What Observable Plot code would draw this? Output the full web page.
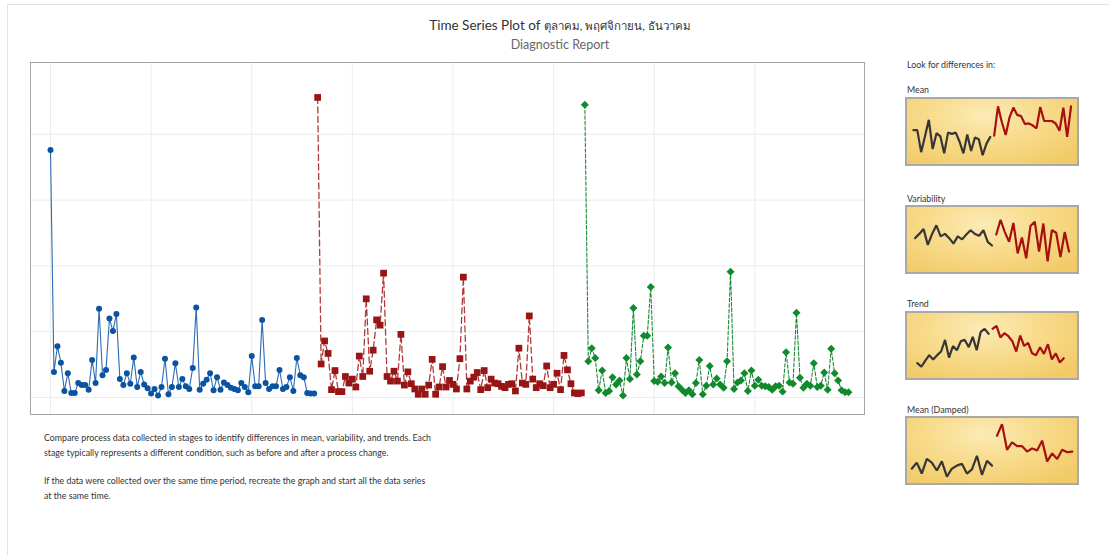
<!DOCTYPE html>
<html>
<head>
<meta charset="utf-8">
<script src="https://cdn.jsdelivr.net/npm/d3@7"></script>
<script src="https://cdn.jsdelivr.net/npm/@observablehq/plot@0.6"></script>
<style>
  html, body { margin: 0; padding: 0; background: #fff; }
  body { width: 1109px; height: 555px; position: relative; overflow: hidden;
         font-family: Lato, "Open Sans", "Noto Sans", "DejaVu Sans", sans-serif; color: #333; }
  .page { position: absolute; left: 7px; top: 4px; width: 1110px; height: 560px; border: 1px solid #e2e2e2; }
  .title { position: absolute; left: 0; width: 1120px; top: 17px; text-align: center; font-size: 13.5px; color: #333; }
  .title .th { font-size: 11.5px; }
  .subtitle { position: absolute; left: 0; width: 1120px; top: 37px; text-align: center; font-size: 12.5px; color: #666; }
  #main { position: absolute; left: 30px; top: 62px; width: 835px; height: 353px; border: 1px solid #a6a6a6; box-sizing: border-box; }
  #main svg { display: block; }
  .note { position: absolute; left: 44px; font-size: 8.8px; line-height: 15px; color: #333; width: 400px; }
  .side { position: absolute; left: 907px; font-size: 8.8px; color: #333; }
  .panel { position: absolute; left: 905px; width: 174px; height: 69px; box-sizing: border-box; border: 2px solid #a9a9a9;
           background: radial-gradient(ellipse 70% 90% at 45% 25%, #fcebb6 0%, #f8dc8e 45%, #f2cb68 100%); }
  .panel svg { display: block; background: transparent; }
</style>
</head>
<body>
<div class="page"></div>
<div class="title">Time Series Plot of <span class="th">ตุลาคม, พฤศจิกายน, ธันวาคม</span></div>
<div class="subtitle">Diagnostic Report</div>
<div id="main"></div>
<div class="note" style="top:430px">Compare process data collected in stages to identify differences in mean, variability, and trends. Each<br>stage typically represents a different condition, such as before and after a process change.</div>
<div class="note" style="top:473px">If the data were collected over the same time period, recreate the graph and start all the data series<br>at the same time.</div>
<div class="side" style="top:59px">Look for differences in:</div>
<div class="side" style="top:84px">Mean</div>
<div class="panel" id="p1" style="top:97px"></div>
<div class="side" style="top:193px">Variability</div>
<div class="panel" id="p2" style="top:205px"></div>
<div class="side" style="top:298px">Trend</div>
<div class="panel" id="p3" style="top:311px"></div>
<div class="side" style="top:404px">Mean (Damped)</div>
<div class="panel" id="p4" style="top:416px"></div>
<script>
// ---- main chart data (arbitrary units) ----
const stageNames = ["ตุลาคม", "พฤศจิกายน", "ธันวาคม"];
const octValues = [376, 39, 78, 53, 10, 37, 7, 7, 22, 19, 19, 12, 57, 22, 135, 34, 42, 120, 101, 127,
  28, 19, 37, 21, 61, 16, 39, 20, 14, 6, 13, 3, 16, 59, 5, 16, 52, 16, 28, 17,
  13, 45, 137, 12, 21, 27, 37, 11, 31, 12, 23, 19, 15, 13, 11, 22, 16, 8, 63, 17,
  17, 118, 22, 13, 17, 17, 42, 13, 16, 31, 10, 60, 34, 31, 7, 6, 6];
const novValues = [456, 51, 86, 67, 12, 41, 9, 9, 32, 22, 28, 16, 63, 32, 150, 40, 72, 118, 110, 189,
  32, 25, 40, 25, 96, 19, 39, 21, 13, 5, 13, 5, 19, 58, 5, 16, 47, 16, 26, 20,
  13, 59, 183, 13, 25, 31, 38, 12, 41, 15, 28, 22, 21, 17, 15, 20, 21, 10, 75, 22,
  20, 124, 28, 15, 21, 18, 48, 15, 20, 37, 12, 64, 42, 21, 7, 6, 7];
const decValues = [445, 55, 75, 60, 11, 41, 7, 10, 31, 20, 26, 3, 60, 28, 136, 35, 55, 94, 94, 168,
  25, 24, 32, 22, 76, 23, 37, 17, 12, 7, 11, 5, 22, 57, 5, 18, 48, 20, 29, 20,
  15, 55, 191, 13, 23, 26, 37, 10, 41, 18, 27, 18, 17, 16, 12, 17, 18, 9, 69, 23,
  21, 129, 30, 15, 21, 18, 52, 16, 18, 38, 12, 74, 37, 26, 11, 8, 8];
const xGridTicks = [1, 30, 59, 88, 117, 146, 175, 204];
const yGridTicks = [0, 100, 200, 300, 400];

// ---- sparkline example data (0-100 within each panel) ----
const meanBefore = [53, 53, 17, 43, 70, 22, 48, 43, 15, 49, 47, 49, 34, 15, 46, 19, 41, 38, 12, 31, 42];
const meanAfter = [44, 92, 66, 45, 74, 90, 78, 76, 63, 64, 61, 56, 91, 68, 68, 68, 64, 52, 90, 42, 92];
const varBefore = [53, 60, 68, 42, 60, 74, 56, 60, 53, 44, 56, 51, 59, 66, 60, 57, 66, 47, 41];
const varAfter = [59, 83, 63, 47, 78, 28, 54, 20, 73, 80, 31, 77, 15, 66, 62, 22, 63, 31];
const trendBefore = [22, 16, 26, 35, 28, 35, 41, 60, 31, 50, 43, 58, 60, 48, 65, 43, 73, 78, 70];
const trendAfter = [78, 83, 64, 71, 66, 58, 41, 67, 50, 55, 38, 35, 48, 37, 53, 28, 38, 23, 30];
const dampBefore = [21, 31, 13, 37, 31, 18, 33, 8, 21, 26, 29, 13, 20, 42, 11, 34, 26];
const dampAfter = [75, 94, 52, 64, 58, 58, 49, 54, 51, 67, 33, 46, 37, 52, 48, 49];

// ---- build table ----
const series = [octValues, novValues, decValues];
const rows = [];
let idx = 1;
series.forEach((vals, s) => vals.forEach(v => rows.push({i: idx++, v, stage: stageNames[s]})));
const oct = rows.filter(d => d.stage === stageNames[0]);
const nov = rows.filter(d => d.stage === stageNames[1]);
const dec = rows.filter(d => d.stage === stageNames[2]);
const n = rows.length;
const W = 833, H = 351;
const step = 3.473;

const main = Plot.plot({
  width: W, height: H, margin: 0,
  style: {background: "transparent"},
  x: {domain: [1 - 19 / step, n + 16 / step], axis: null},
  y: {domain: [-17 / 0.66, 335 / 0.66], axis: null},
  marks: [
    Plot.gridX(xGridTicks, {stroke: "#ececec", strokeOpacity: 1}),
    Plot.gridY(yGridTicks, {stroke: "#ececec", strokeOpacity: 1}),
    Plot.line(oct, {x: "i", y: "v", stroke: "#2b6cb3", strokeWidth: 1.1}),
    Plot.line(nov, {x: "i", y: "v", stroke: "#b23a3a", strokeWidth: 1.3, strokeDasharray: "6,3.5"}),
    Plot.line(dec, {x: "i", y: "v", stroke: "#1a8a36", strokeWidth: 1.1, strokeDasharray: "3.5,2"}),
    Plot.dot(oct, {x: "i", y: "v", symbol: "circle", fill: "#0a53a3", r: 3}),
    Plot.dot(nov, {x: "i", y: "v", symbol: "square", fill: "#981515", r: 3.8}),
    Plot.dot(dec, {x: "i", y: "v", symbol: "diamond2", fill: "#108a2c", r: 3.6})
  ]
});
document.getElementById("main").appendChild(main);

function spark(id, before, after, f0, f1) {
  const w = 170, h = 65;
  const data = before.map((v, k) => ({k, v, part: "before"}))
    .concat(after.map((v, k) => ({k: before.length + k, v, part: "after"})));
  const last = data.length - 1;
  const chart = Plot.plot({
    width: w, height: h, margin: 0,
    style: {background: "transparent"},
    x: {domain: [0, last], range: [w * f0, w * f1], axis: null},
    y: {domain: [0, 100], range: [h - 2, 2], axis: null},
    marks: [
      Plot.line(data.filter(d => d.part === "before"), {x: "k", y: "v", stroke: "#363636", strokeWidth: 2.2, strokeLinejoin: "miter"}),
      Plot.line(data.filter(d => d.part === "after"), {x: "k", y: "v", stroke: "#a80f10", strokeWidth: 2.2, strokeLinejoin: "miter"})
    ]
  });
  document.getElementById(id).appendChild(chart);
}
spark("p1", meanBefore, meanAfter, 0.035, 0.962);
spark("p2", varBefore, varAfter, 0.044, 0.95);
spark("p3", trendBefore, trendAfter, 0.058, 0.919);
spark("p4", dampBefore, dampAfter, 0.025, 0.969);
</script>
</body>
</html>
